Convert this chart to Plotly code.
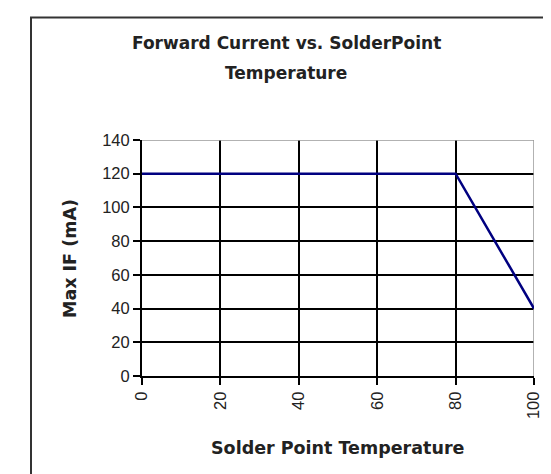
import plotly.graph_objects as go

# Data
temperature = [0, 80, 100]
max_if = [120, 120, 40]
x_ticks = [0, 20, 40, 60, 80, 100]
y_ticks = [0, 20, 40, 60, 80, 100, 120, 140]
title_lines = ["Forward Current vs. SolderPoint", "Temperature"]
x_title = "Solder Point Temperature"
y_title = "Max IF (mA)"

W, H = 551, 474
L, R, T, B = 134, 25, 132, 106
pw, ph = W - L - R, H - T - B

def px(x):
    return (x - L) / pw

def py(y):
    return (H - B - y) / ph

fig = go.Figure()
fig.add_trace(go.Scatter(x=temperature, y=max_if, mode="lines",
                         line=dict(color="#000080", width=2.5),
                         hoverinfo="skip", showlegend=False))

tick_font = dict(family="Liberation Sans, Arial, sans-serif", size=16.5, color="#222")
bold_font = "DejaVu Sans, Verdana, sans-serif"
fig.update_layout(
    width=W, height=H,
    margin=dict(l=L, r=R, t=T, b=B),
    paper_bgcolor="white", plot_bgcolor="white",
    font=dict(family="Liberation Sans, Arial, sans-serif", size=15, color="#222"),
    xaxis=dict(range=[0, 100], tickvals=x_ticks, tickangle=-90,
               showgrid=True, gridcolor="black", gridwidth=1.5,
               showline=True, linecolor="black", linewidth=2,
               ticks="outside", ticklen=7, tickwidth=1.5, tickcolor="black",
               zeroline=False, fixedrange=True, tickfont=tick_font),
    yaxis=dict(range=[0, 140], tickvals=y_ticks,
               showgrid=True, gridcolor="black", gridwidth=1.5,
               showline=True, linecolor="black", linewidth=2,
               ticks="outside", ticklen=7, tickwidth=1.5, tickcolor="black",
               zeroline=False, fixedrange=True, tickfont=tick_font),
)

# gray top/right plot border
fig.add_shape(type="line", xref="x", yref="y", x0=0, x1=100, y0=140, y1=140,
              line=dict(color="#999", width=1.5), layer="between")
fig.add_shape(type="line", xref="x", yref="y", x0=100, x1=100, y0=0, y1=140,
              line=dict(color="#999", width=1.5), layer="between")

# outer chart border (left and top visible, cut off at right/bottom)
fig.add_shape(type="rect", xref="paper", yref="paper",
              x0=px(23), x1=px(W + 20), y0=py(H + 20), y1=py(9.5),
              line=dict(color="#333", width=2), layer="above")

fig.add_annotation(text="<b>%s</b>" % title_lines[0], xref="paper", yref="paper",
                   x=px(278), y=py(35), showarrow=False, xanchor="center", yanchor="middle",
                   font=dict(family=bold_font, size=17, color="#222"))
fig.add_annotation(text="<b>%s</b>" % title_lines[1], xref="paper", yref="paper",
                   x=px(278), y=py(65), showarrow=False, xanchor="center", yanchor="middle",
                   font=dict(family=bold_font, size=17, color="#222"))
fig.add_annotation(text="<b>%s</b>" % x_title, xref="paper", yref="paper",
                   x=px(330), y=py(440), showarrow=False, xanchor="center", yanchor="middle",
                   font=dict(family=bold_font, size=17.5, color="#222"))
fig.add_annotation(text="<b>%s</b>" % y_title, xref="paper", yref="paper",
                   x=px(62), y=py(251), showarrow=False, xanchor="center", yanchor="middle",
                   textangle=-90, font=dict(family=bold_font, size=17.5, color="#222"))

fig.write_html("out.html")
